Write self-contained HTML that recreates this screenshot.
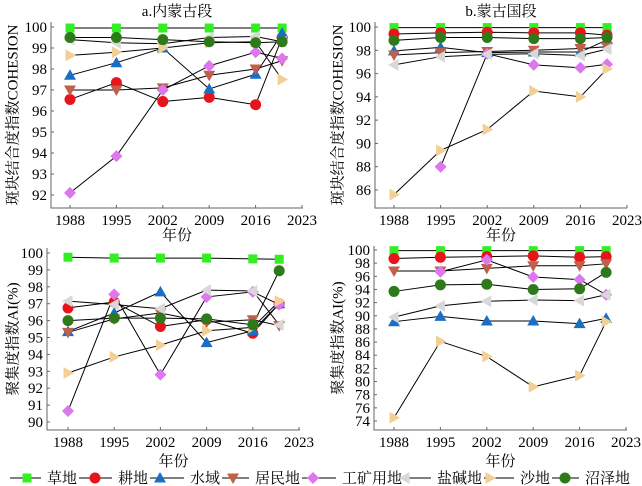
<!DOCTYPE html>
<html><head><meta charset="utf-8">
<style>
html,body{margin:0;padding:0;background:#fff;}
svg{display:block;font-family:"Liberation Serif","Noto Serif CJK SC",serif;}
</style></head>
<body>
<svg id="chart" width="642" height="486" viewBox="0 0 642 486" xmlns="http://www.w3.org/2000/svg"></svg>
<script>
const years = [1988, 1995, 2002, 2009, 2016, 2020];
const xTicks = [1988, 1995, 2002, 2009, 2016, 2023];
const seriesNames = ["草地","耕地","水域","居民地","工矿用地","盐碱地","沙地","沼泽地"];
const seriesKeys = ["grass","crop","water","resid","mine","saline","sand","marsh"];

// Panel a: COHESION, Inner Mongolia
const aGrass  = [99.95,99.95,99.95,99.95,99.95,99.95];
const aCrop   = [96.55,97.35,96.45,96.65,96.3,99.5];
const aWater  = [97.7,98.3,99.0,97.05,97.75,99.7];
const aResid  = [97.0,97.0,97.1,97.7,98.0,98.4];
const aMine   = [92.1,93.85,97.0,98.15,98.8,98.5];
const aSaline = [99.4,99.25,99.2,99.5,99.55,99.3];
const aSand   = [98.65,98.8,99.0,99.25,99.3,97.5];
const aMarsh  = [99.5,99.5,99.4,99.3,99.25,99.3];
const aTicks  = [92,93,94,95,96,97,98,99,100];

// Panel b: COHESION, Mongolia
const bGrass  = [99.95,99.95,99.95,99.95,99.95,99.95];
const bCrop   = [99.4,99.5,99.55,99.5,99.5,99.3];
const bWater  = [97.95,98.25,97.8,97.85,97.85,98.9];
const bResid  = [97.6,97.8,97.9,98.0,98.15,98.3];
const bMine   = [null,88.0,97.7,96.75,96.5,96.8];
const bSaline = [96.75,97.45,97.65,97.7,97.55,98.1];
const bSand   = [85.6,89.4,91.2,94.5,94.0,96.4];
const bMarsh  = [98.85,99.1,99.1,99.0,99.0,99.1];
const bTicks  = [86,88,90,92,94,96,98,100];

// Panel c: AI, Inner Mongolia
const cGrass  = [99.75,99.7,99.7,99.7,99.65,99.63];
const cCrop   = [96.75,97.1,95.65,96.05,95.25,97.0];
const cWater  = [95.35,96.45,97.7,94.7,95.4,97.0];
const cResid  = [95.3,96.1,96.45,95.9,96.05,95.7];
const cMine   = [90.65,97.55,92.8,97.4,97.7,96.95];
const cSaline = [97.15,96.95,96.7,97.8,97.75,95.75];
const cSand   = [92.9,93.85,94.55,95.4,95.6,97.15];
const cMarsh  = [96.0,96.15,96.15,96.1,95.75,98.95];
const cTicks  = [90,91,92,93,94,95,96,97,98,99,100];

// Panel d: AI, Mongolia
const dGrass  = [99.9,99.9,99.9,99.9,99.9,99.9];
const dCrop   = [98.7,98.9,99.0,99.1,98.9,99.0];
const dWater  = [89.1,89.9,89.2,89.2,88.8,89.6];
const dResid  = [96.8,96.8,97.2,97.6,97.6,97.9];
const dMine   = [null,96.7,98.5,95.9,95.5,93.2];
const dSaline = [89.8,91.5,92.2,92.4,92.3,93.2];
const dSand   = [74.5,86.1,83.8,79.2,80.9,89.1];
const dMarsh  = [93.7,94.7,94.8,94.0,94.1,96.6];
const dTicks  = [74,76,78,80,82,84,86,88,90,92,94,96,98,100];

const styles = {
  grass:{c:"#33ee22",m:"square"}, crop:{c:"#e8141c",m:"circle"}, water:{c:"#1a6fc4",m:"up"},
  resid:{c:"#c0604a",m:"down"}, mine:{c:"#dd77ee",m:"diamond"}, saline:{c:"#d8d8d8",m:"left"},
  sand:{c:"#f2d095",m:"right"}, marsh:{c:"#2e7a1a",m:"circle"}
};

const panels = [
  {id:"a", title:"a.内蒙古段", ylab:"斑块结合度指数COHESION", ticks:aTicks,
   series:[aGrass,aCrop,aWater,aResid,aMine,aSaline,aSand,aMarsh],
   x0:70,x1:302,axL:51,axR:303,top:22,bot:208,v0:100,p0:27,v1:92,p1:195,titleY:16,xlabY:240,ylabX:14},
  {id:"b", title:"b.蒙古国段", ylab:"斑块结合度指数COHESION", ticks:bTicks,
   series:[bGrass,bCrop,bWater,bResid,bMine,bSaline,bSand,bMarsh],
   x0:394,x1:627,axL:375,axR:627,top:22,bot:208,v0:100,p0:27,v1:86,p1:190,titleY:16,xlabY:240,ylabX:339},
  {id:"c", title:"", ylab:"聚集度指数AI(%)", ticks:cTicks,
   series:[cGrass,cCrop,cWater,cResid,cMine,cSaline,cSand,cMarsh],
   x0:68,x1:299,axL:47,axR:300,top:248,bot:430,v0:100,p0:253,v1:90,p1:422,titleY:0,xlabY:466,ylabX:14},
  {id:"d", title:"", ylab:"聚集度指数AI(%)", ticks:dTicks,
   series:[dGrass,dCrop,dWater,dResid,dMine,dSaline,dSand,dMarsh],
   x0:394,x1:626,axL:374,axR:627,top:246,bot:430,v0:100,p0:250,v1:74,p1:421,titleY:0,xlabY:466,ylabX:339}
];

const svg = document.getElementById("chart");
const NS = "http://www.w3.org/2000/svg";
function mk(tag, attrs, parent){
  const e = document.createElementNS(NS, tag);
  for (const k in attrs) e.setAttribute(k, attrs[k]);
  (parent||svg).appendChild(e);
  return e;
}
function marker(g, type, x, y, color){
  const s = 5;
  let e;
  if (type==="square") e = mk("rect",{x:x-4.5,y:y-4.5,width:9,height:9,fill:color},g);
  else if (type==="circle") e = mk("circle",{cx:x,cy:y,r:5.5,fill:color},g);
  else {
    let p;
    if (type==="up") p=[[x,y-6],[x+6,y+4.5],[x-6,y+4.5]];
    else if (type==="down") p=[[x,y+6],[x+6,y-4.5],[x-6,y-4.5]];
    else if (type==="left") p=[[x-6,y],[x+4.5,y-6],[x+4.5,y+6]];
    else if (type==="right") p=[[x+6,y],[x-4.5,y-6],[x-4.5,y+6]];
    else p=[[x,y-6],[x+6,y],[x,y+6],[x-6,y]];
    e = mk("polygon",{points:p.map(q=>q.join(",")).join(" "),fill:color},g);
  }
  return e;
}

panels.forEach(P=>{
  const xs = yr => P.x0 + (yr-1988)*(P.x1-P.x0)/(2023-1988);
  const ys = v => P.p0 + (P.v0-v)*(P.p1-P.p0)/(P.v0-P.v1);
  const g = mk("g",{});
  
  
  // axes
  const ax = mk("path",{d:`M${P.axL},${P.top}V${P.bot}H${P.axR}`,stroke:"#666",fill:"none","stroke-width":1},g);
  
  
  P.ticks.forEach(t=>{
    const y = ys(t);
    mk("line",{x1:P.axL,x2:P.axL+3,y1:y,y2:y,stroke:"#666"},g);
    const tx = mk("text",{x:P.axL-4,y:y+5,"text-anchor":"end","font-size":15,fill:"#000"},g);
    tx.textContent = t;
    
    
  });
  xTicks.forEach(t=>{
    const x = xs(t);
    mk("line",{x1:x,x2:x,y1:P.bot,y2:P.bot-3,stroke:"#666"},g);
    const tx = mk("text",{x:x,y:P.bot+17,"text-anchor":"middle","font-size":15,fill:"#000"},g);
    tx.textContent = t;
    
    
  });
  if (P.title){
    const t = mk("text",{x:(P.axL+P.axR)/2,y:P.titleY,"text-anchor":"middle","font-size":15},g);
    t.textContent = P.title;
    
    
  }
  const xl = mk("text",{x:(P.axL+P.axR)/2,y:P.xlabY,"text-anchor":"middle","font-size":15},g);
  xl.textContent = "年份";
  
  
  const cy = (P.top+P.bot)/2;
  const yl = mk("text",{x:P.ylabX,y:cy,"text-anchor":"middle","font-size":15,transform:`rotate(-90 ${P.ylabX} ${cy})`,"dominant-baseline":"middle"},g);
  yl.textContent = P.ylab;
  
  
  // lines first
  P.series.forEach((vals,i)=>{
    let d = "", pen = false;
    vals.forEach((v,j)=>{
      if (v===null){pen=false;return;}
      d += (pen?"L":"M")+xs(years[j])+","+ys(v);
      pen = true;
    });
    const l = mk("path",{d:d,stroke:"#000",fill:"none","stroke-width":1},g);
    
    
  });
  P.series.forEach((vals,i)=>{
    const st = styles[seriesKeys[i]];
    vals.forEach((v,j)=>{
      if (v===null) return;
      const m = marker(g, st.m, xs(years[j]), ys(v), st.c);
      
      
    });
  });
});

// legend
const legendText = [47,118,190,255,342,437,520,585];
const legendMark = [27,95,160,233,313,405,490,565];
const lg = mk("g",{});


const ly = 478;
seriesKeys.forEach((k,i)=>{
  const st = styles[k];
  const start = i===0 ? 10 : legendText[i-1] + (seriesNames[i-1].length*15) + 2;
  mk("line",{x1:start,x2:legendText[i]-6,y1:ly,y2:ly,stroke:"#000"},lg);
  const m = marker(lg, st.m, legendMark[i], ly, st.c);
  
  
  const t = mk("text",{x:legendText[i],y:ly+5,"font-size":15},lg);
  t.textContent = seriesNames[i];
  
  
});
</script>
</body></html>
